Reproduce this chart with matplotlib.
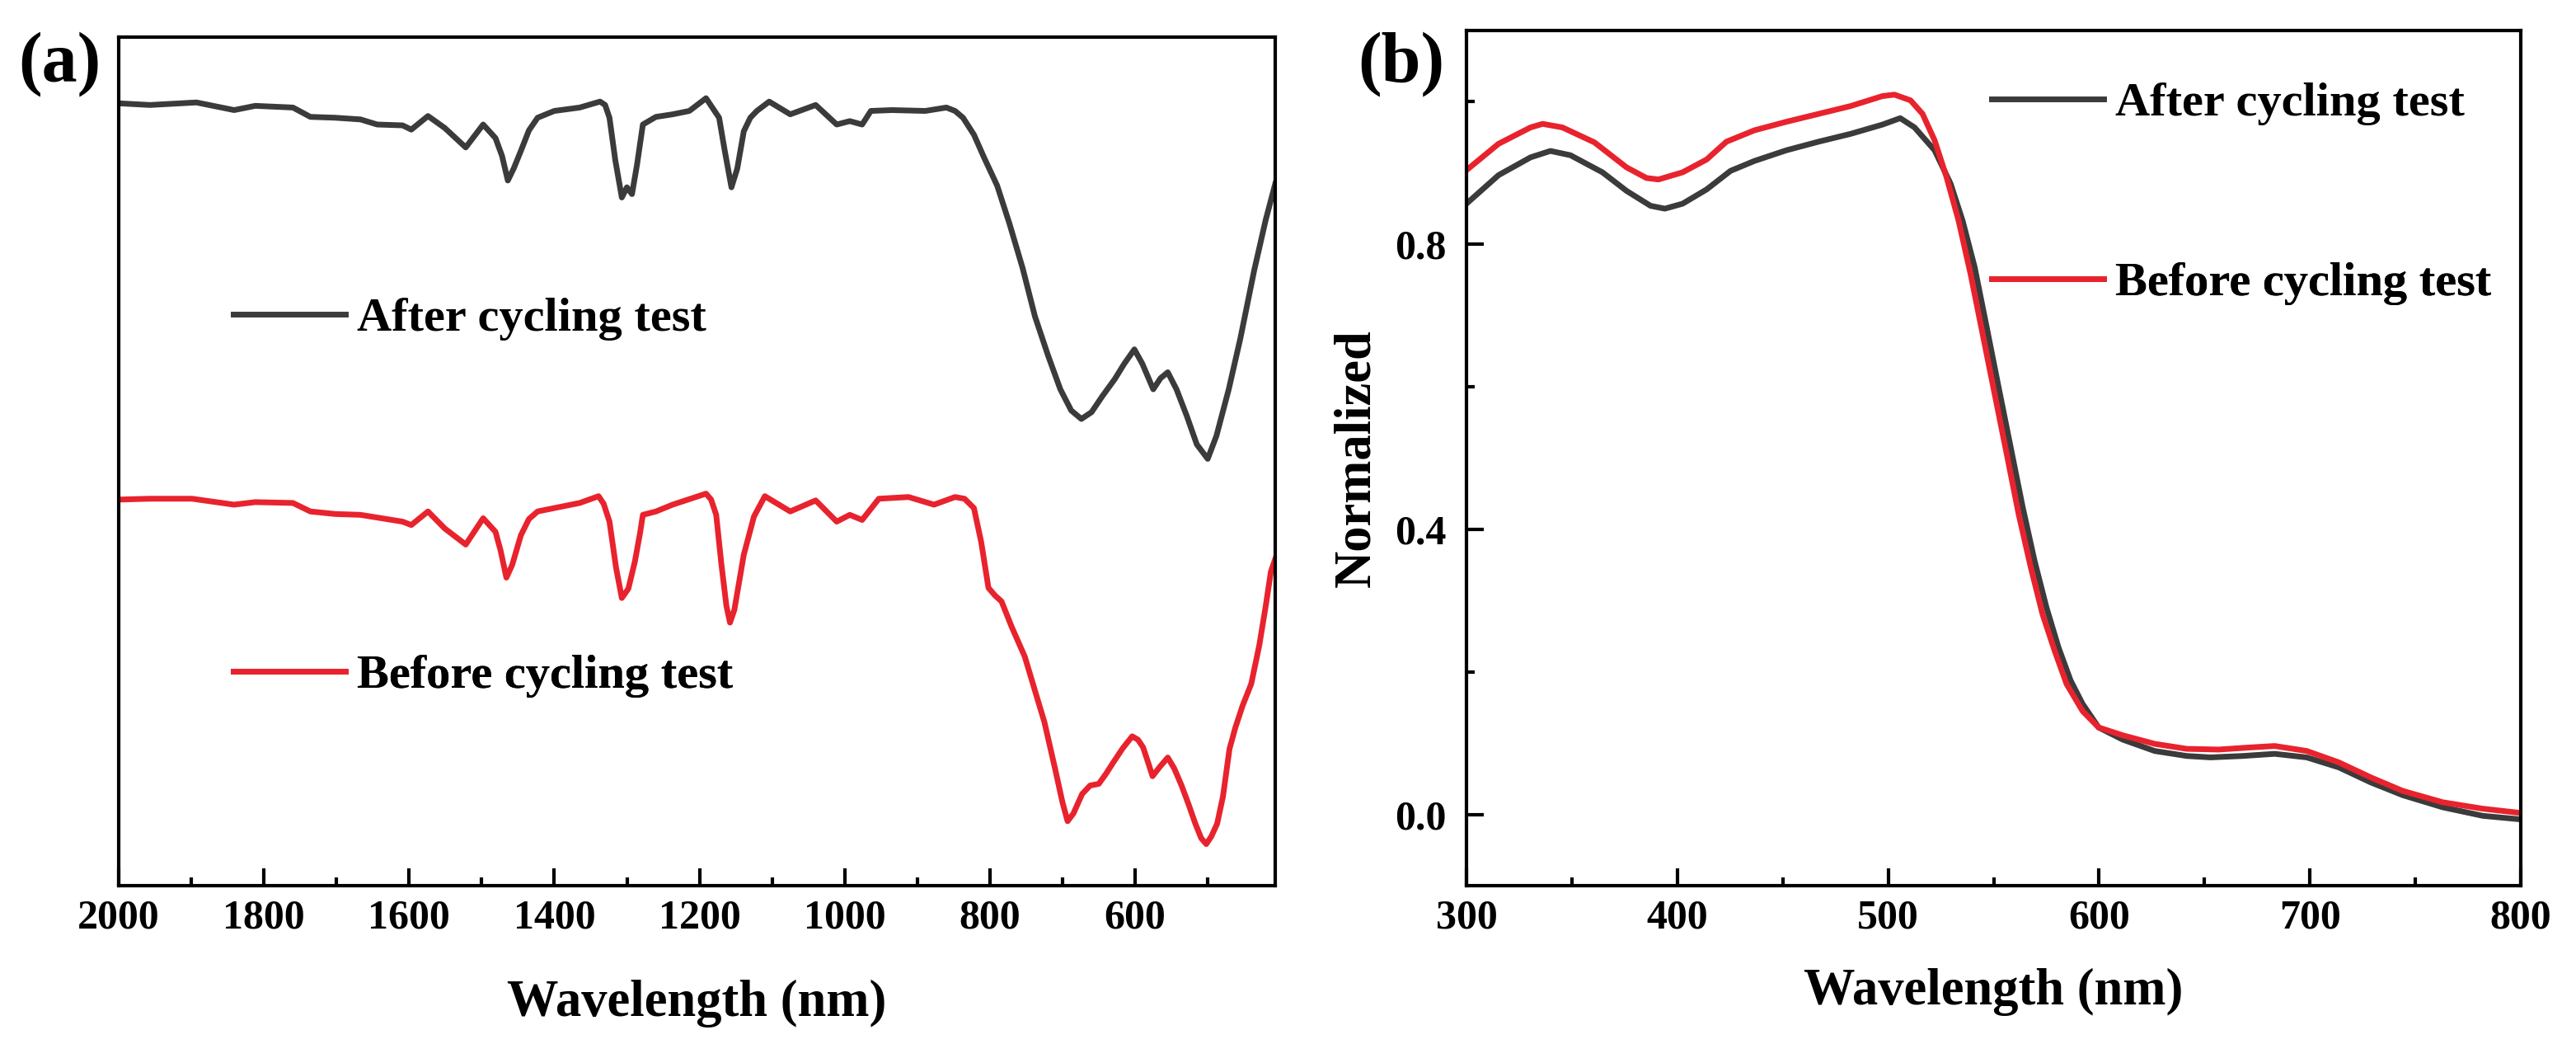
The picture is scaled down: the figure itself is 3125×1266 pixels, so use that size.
import matplotlib
matplotlib.use("Agg")
import matplotlib.pyplot as plt
from matplotlib.ticker import MultipleLocator, NullLocator

# ---- panel (a): wide range spectra (stacked, arbitrary units) ----
wl_a_after = [2000, 1957, 1893, 1841, 1812, 1760, 1736, 1702, 1667, 1644,
              1609, 1597, 1574, 1551, 1522, 1498, 1481, 1472, 1464, 1456,
              1446, 1435, 1423, 1400, 1365, 1337, 1330, 1324, 1316, 1307,
              1300, 1293, 1286, 1278, 1260, 1237, 1214, 1191, 1173, 1165,
              1156, 1148, 1139, 1130, 1121, 1104, 1075, 1040, 1011, 993,
              976, 964, 935, 889, 860, 848, 837, 822, 808, 790,
              773, 755, 738, 720, 703, 688, 674, 660, 645, 628,
              615, 601, 590, 575, 565, 555, 543, 529, 515, 500,
              488, 471, 455, 436, 420, 407]
after_a = [92.2, 92.0, 92.3, 91.4, 91.9, 91.7, 90.6, 90.5, 90.3, 89.7,
           89.6, 89.1, 90.7, 89.3, 87.0, 89.7, 88.1, 86.0, 83.1, 84.5,
           86.6, 89.0, 90.5, 91.3, 91.7, 92.4, 92.0, 90.5, 85.5, 81.1,
           82.3, 81.5, 85.0, 89.7, 90.6, 90.9, 91.3, 92.8, 90.5, 86.5,
           82.3, 84.5, 88.9, 90.5, 91.3, 92.4, 90.9, 92.0, 89.7, 90.1,
           89.7, 91.3, 91.4, 91.3, 91.7, 91.3, 90.5, 88.5, 85.8, 82.5,
           78.0, 72.8, 67.1, 62.5, 58.5, 56.0, 55.0, 55.8, 57.7, 59.7,
           61.5, 63.2, 61.5, 58.5, 59.8, 60.5, 58.5, 55.4, 52.0, 50.3,
           53.0, 58.5, 64.5, 72.5, 78.5, 82.7]

wl_a_before = [2000, 1957, 1899, 1841, 1812, 1760, 1736, 1702, 1667, 1609,
               1597, 1574, 1551, 1522, 1498, 1481, 1474, 1466, 1458, 1446,
               1435, 1423, 1400, 1365, 1339, 1332, 1324, 1315, 1307, 1298,
               1289, 1282, 1278, 1260, 1237, 1191, 1184, 1177, 1170, 1163,
               1158, 1152, 1139, 1125, 1110, 1075, 1040, 1011, 993, 976,
               953, 912, 877, 848, 835, 822, 812, 802, 793, 784,
               770, 752, 738, 725, 710, 700, 693, 685, 673, 662,
               650, 640, 631, 617, 604, 596, 589, 582, 576, 566,
               555, 546, 536, 526, 517, 509, 502, 495, 487, 479,
               470, 462, 452, 440, 429, 420, 413, 407]
before_a = [45.5, 45.6, 45.6, 44.9, 45.2, 45.1, 44.1, 43.8, 43.7, 42.9,
            42.5, 44.1, 42.1, 40.2, 43.3, 41.7, 39.5, 36.3, 37.8, 41.3,
            43.2, 44.1, 44.5, 45.1, 45.9, 45.0, 42.9, 37.5, 33.9, 35.0,
            38.2, 41.5, 43.7, 44.1, 44.9, 46.2, 45.5, 43.7, 38.0, 33.0,
            31.0, 32.5, 39.0, 43.5, 45.9, 44.1, 45.4, 42.9, 43.7, 43.1,
            45.6, 45.8, 44.9, 45.8, 45.6, 44.5, 40.5, 35.1, 34.2, 33.5,
            30.5, 27.0, 23.0, 19.3, 13.7, 9.8, 7.6, 8.5, 10.8, 11.8,
            12.0, 13.2, 14.4, 16.2, 17.6, 17.2, 16.3, 14.5, 12.9, 14.0,
            15.1, 13.8, 11.8, 9.5, 7.3, 5.6, 4.9, 5.8, 7.3, 10.5,
            16.1, 18.6, 21.2, 23.8, 28.3, 33.0, 37.0, 38.5]

# ---- panel (b): normalized absorption ----
wl_b_after = [300, 315.2, 330.4, 339.8, 349.3, 364.5, 375.9, 387.3, 394.1, 402.5,
              413.9, 425.2, 436.6, 451.8, 467.0, 482.2, 497.3, 505.7, 512.5, 522.0,
              529.6, 535.3, 541.0, 546.7, 552.4, 558.1, 563.8, 569.4, 575.1, 580.8,
              586.5, 592.2, 599.8, 611.2, 626.4, 641.6, 652.9, 668.1, 683.3, 698.5,
              713.7, 728.8, 744.0, 763.0, 782.0, 800]
after_b = [0.857, 0.897, 0.922, 0.931, 0.925, 0.901, 0.875, 0.854, 0.850, 0.857,
           0.877, 0.903, 0.917, 0.932, 0.944, 0.955, 0.968, 0.977, 0.964, 0.932,
           0.885, 0.833, 0.768, 0.684, 0.599, 0.515, 0.431, 0.356, 0.290, 0.234,
           0.188, 0.155, 0.122, 0.105, 0.089, 0.082, 0.080, 0.082, 0.085, 0.080,
           0.066, 0.045, 0.027, 0.010, -0.002, -0.007]

wl_b_before = [300, 315.2, 330.4, 336.1, 345.5, 360.7, 375.9, 385.4, 391.1, 402.5,
               413.9, 423.3, 436.6, 451.8, 467.0, 482.2, 497.3, 503.0, 510.6, 516.3,
               522.0, 527.7, 533.4, 539.1, 544.8, 550.5, 556.2, 561.9, 567.6, 573.2,
               578.9, 584.6, 592.2, 599.8, 611.2, 626.4, 641.6, 656.7, 671.9, 683.3,
               698.5, 713.7, 728.8, 744.0, 763.0, 782.0, 800]
before_b = [0.904, 0.941, 0.964, 0.969, 0.964, 0.943, 0.908, 0.893, 0.891, 0.901,
            0.919, 0.944, 0.960, 0.972, 0.983, 0.994, 1.008, 1.010, 1.002, 0.983,
            0.946, 0.894, 0.833, 0.758, 0.674, 0.590, 0.506, 0.421, 0.347, 0.281,
            0.230, 0.183, 0.145, 0.122, 0.111, 0.099, 0.092, 0.091, 0.094, 0.096,
            0.089, 0.073, 0.052, 0.033, 0.017, 0.008, 0.002]

labels = ["After cycling test", "Before cycling test"]
c_after = "#3b3b3b"
c_before = "#e8232d"

plt.rcParams["font.family"] = "Liberation Serif"
plt.rcParams["font.weight"] = "bold"
plt.rcParams["axes.labelweight"] = "bold"

W, H = 3125, 1266
fig = plt.figure(figsize=(W / 100, H / 100), dpi=100)
ax_a = fig.add_axes([144 / W, (H - 1074) / H, 1403 / W, 1029 / H])
ax_b = fig.add_axes([1779 / W, (H - 1074) / H, 1279 / W, 1037 / H])

for ax in (ax_a, ax_b):
    for sp in ax.spines.values():
        sp.set_linewidth(3)
    ax.tick_params(which="both", direction="in", width=3, top=False, right=False,
                   labelsize=36)
    ax.tick_params(which="major", length=15, pad=12)
    ax.tick_params(which="minor", length=7.5)
    ax.tick_params(axis="y", which="major", pad=18)


def add_legends(ax, h_after, h_before, x, y_after, y_before):
    for h, y in ((h_after, y_after), (h_before, y_before)):
        leg = ax.legend(handles=[h], loc="center left", bbox_to_anchor=(x, y),
                        frameon=False, fontsize=42, handlelength=2.33,
                        handletextpad=0.24, borderpad=0, borderaxespad=0)
        ax.add_artist(leg)


# (a)
la, = ax_a.plot(wl_a_after, after_a, color=c_after, lw=5, label=labels[0],
                solid_joinstyle="round")
lb, = ax_a.plot(wl_a_before, before_a, color=c_before, lw=5, label=labels[1],
                solid_joinstyle="round")
ax_a.set_xlim(2000, 407)
ax_a.set_ylim(0, 100)
ax_a.xaxis.set_major_locator(MultipleLocator(200))
ax_a.xaxis.set_minor_locator(MultipleLocator(100))
ax_a.yaxis.set_major_locator(NullLocator())
ax_a.yaxis.set_minor_locator(NullLocator())
ax_a.set_xlabel("Wavelength (nm)", fontsize=45)
ax_a.xaxis.set_label_coords(0.5, -0.111)
add_legends(ax_a, la, lb, 0.0991, 0.6676, 0.2468)

# (b)
la2, = ax_b.plot(wl_b_after, after_b, color=c_after, lw=5, label=labels[0],
                 solid_joinstyle="round")
lb2, = ax_b.plot(wl_b_before, before_b, color=c_before, lw=5, label=labels[1],
                 solid_joinstyle="round")
ax_b.set_xlim(300, 800)
ax_b.set_ylim(-0.1, 1.1)
ax_b.xaxis.set_major_locator(MultipleLocator(100))
ax_b.xaxis.set_minor_locator(MultipleLocator(50))
ax_b.set_yticks([0.0, 0.4, 0.8])
ax_b.set_yticklabels(["0.0", "0.4", "0.8"])
ax_b.yaxis.set_minor_locator(MultipleLocator(0.2))
ax_b.set_xlabel("Wavelength (nm)", fontsize=45)
ax_b.xaxis.set_label_coords(0.5, -0.0964)
ax_b.set_ylabel("Normalized", fontsize=45)
ax_b.yaxis.set_label_coords(-0.0813, 0.5)
add_legends(ax_b, la2, lb2, 0.498, 0.9142, 0.7039)

fig.text(72 / W, 1 - 78 / H, "(a)", fontsize=62, ha="center", va="center")
fig.text(1700 / W, 1 - 78 / H, "(b)", fontsize=62, ha="center", va="center")

fig.savefig("out.png", dpi=100)
